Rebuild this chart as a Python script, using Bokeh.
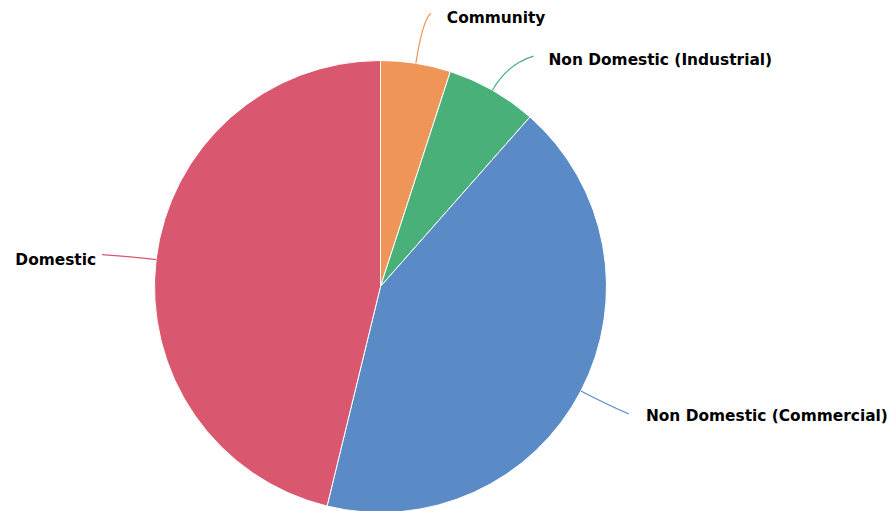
import numpy as np
from bokeh.plotting import figure
from bokeh.models import Range1d, ColumnDataSource
from bokeh.core.properties import value
from bokeh.embed import file_html
from bokeh.resources import INLINE

# ---- data ----
categories = ["Community", "Non Domestic (Industrial)", "Non Domestic (Commercial)", "Domestic"]
shares = [5.0, 6.5, 42.3, 46.2]
colors = ["#ef9557", "#49b079", "#5a8bc6", "#d9576f"]

# ---- layout (pixels) ----
W, H = 896, 511
CX, CY_SCREEN, R = 380, 286, 226
CY = H - CY_SCREEN
# connector end offsets (screen px, relative to slice edge point) and label side
conn_end = [(15, -50), (41, -34), (48, 23), (-54, -5)]
ctrl_len = [44, 30, 30, 20]
label_gap = [16, 15, 17, -6]

vals = np.array(shares, dtype=float)
frac = vals / vals.sum()
cum = np.concatenate([[0], np.cumsum(frac)])
start = np.pi / 2 - 2 * np.pi * cum[:-1]
end = np.pi / 2 - 2 * np.pi * cum[1:]
mid = (start + end) / 2

p = figure(width=W, height=H, output_backend="svg", toolbar_location=None,
           x_range=Range1d(0, W), y_range=Range1d(0, H), min_border=0)
p.axis.visible = False
p.grid.visible = False
p.outline_line_color = None
p.background_fill_color = "white"
p.border_fill_color = "white"

src = ColumnDataSource(dict(x=[CX] * len(vals), y=[CY] * len(vals), start=start, end=end, color=colors))
p.wedge(x="x", y="y", radius=R, start_angle="end", end_angle="start", fill_color="color",
        line_color="white", line_width=1, source=src)

ex = CX + R * np.cos(mid)
ey = CY + R * np.sin(mid)
tx = ex + np.array([c[0] for c in conn_end])
ty = ey - np.array([c[1] for c in conn_end])
cx = ex + np.array(ctrl_len) * np.cos(mid)
cy = ey + np.array(ctrl_len) * np.sin(mid)
p.quadratic(x0=ex, y0=ey, x1=tx, y1=ty, cx=cx, cy=cy, line_color=colors, line_width=1.2)

lx = tx + np.array(label_gap)
ly = ty - np.array([5, 4, 2, 5])
align = ["left" if g > 0 else "right" for g in label_gap]
lsrc = ColumnDataSource(dict(x=lx, y=ly, text=categories, align=align))
p.text(x="x", y="y", text="text", text_align="align", text_baseline="middle",
       text_font=value("DejaVu Sans"), text_font_style="bold", text_font_size="15.4px",
       text_color="#000000", source=lsrc)

open("out.html", "w").write(file_html(p, INLINE))
